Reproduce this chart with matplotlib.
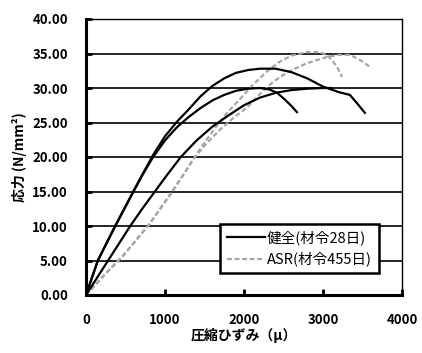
import matplotlib.pyplot as plt

plt.rcParams['font.family'] = ['Noto Sans CJK JP', 'DejaVu Sans']

# black specimens (健全, 材令28日)
a_strain = [0, 150, 370, 600, 720, 850, 1000, 1150, 1300, 1450, 1600, 1750, 1900, 2050,
            2200, 2400, 2600, 2800, 3000, 3200, 3340, 3430, 3530]
a_stress = [0, 5.0, 10.0, 15.0, 17.6, 20.3, 23.0, 25.1, 26.9, 28.8, 30.3, 31.4, 32.2, 32.6,
            32.8, 32.8, 32.3, 31.4, 30.2, 29.4, 29.0, 27.8, 26.4]
b_strain = [0, 150, 370, 600, 720, 850, 1000, 1150, 1300, 1450, 1600, 1750, 1900, 2050,
            2200, 2320, 2420, 2520, 2600, 2670]
b_stress = [0, 5.0, 10.0, 15.0, 17.5, 20.0, 22.4, 24.3, 25.8, 27.1, 28.2, 29.0, 29.6, 29.9,
            30.0, 29.8, 29.3, 28.3, 27.4, 26.5]
c_strain = [0, 280, 560, 700, 840, 1000, 1200, 1400, 1600, 1800, 2000, 2200, 2400, 2600,
            2800, 3000, 3100]
c_stress = [0, 5.0, 10.0, 12.3, 14.5, 17.0, 20.0, 22.4, 24.4, 26.0, 27.5, 28.6, 29.3, 29.7,
            29.9, 30.0, 30.0]

# gray specimens (ASR, 材令455日)
g1_strain = [0, 240, 470, 630, 790, 940, 1080, 1220, 1360, 1500, 1640, 1800, 1950, 2100,
             2290, 2450, 2600, 2800, 2950, 3050, 3130, 3190, 3240]
g1_stress = [0, 3.0, 5.7, 7.9, 10.1, 12.5, 14.8, 17.2, 19.7, 22.1, 24.3, 26.6, 28.4, 30.3,
             32.4, 33.8, 34.7, 35.2, 35.2, 34.8, 33.8, 32.8, 31.6]
g2_strain = [0, 240, 470, 630, 790, 940, 1080, 1220, 1360, 1520, 1700, 1870, 2040, 2200,
             2370, 2550, 2800, 3050, 3200, 3340, 3450, 3530, 3600]
g2_stress = [0, 3.0, 5.7, 7.9, 10.1, 12.5, 14.8, 17.2, 19.7, 21.9, 24.0, 25.7, 27.2, 29.1,
             30.9, 32.3, 33.6, 34.5, 34.8, 34.8, 34.2, 33.6, 33.0]

yticks = [0, 5, 10, 15, 20, 25, 30, 35, 40]
xticks = [0, 1000, 2000, 3000, 4000]

fig = plt.figure(figsize=(4.22, 3.53), dpi=100)
ax = fig.add_axes([86/422, 1-295/353, 316/422, 276/353])

for y in yticks[1:-1]:
    ax.axhline(y, color='black', lw=1.2, zorder=1)

gray = '#a6a6a6'
ax.plot(g1_strain, g1_stress, color=gray, lw=1.6, ls=(0, (2.2, 1.2)), zorder=2)
ax.plot(g2_strain, g2_stress, color=gray, lw=1.6, ls=(0, (2.2, 1.2)), zorder=2,
        label='ASR(材令455日)')
ax.plot(a_strain, a_stress, color='black', lw=1.6, zorder=3, label='健全(材令28日)')
ax.plot(b_strain, b_stress, color='black', lw=1.6, zorder=3)
ax.plot(c_strain, c_stress, color='black', lw=1.6, zorder=3)

ax.set_xlim(0, 4000)
ax.set_ylim(0, 40)
ax.set_xticks(xticks)
ax.set_yticks(yticks)
ax.set_yticklabels([f'{v:.2f}' for v in yticks])
ax.tick_params(direction='in', length=4, width=2, labelsize=9.5, pad=13)
for lab in ax.get_xticklabels() + ax.get_yticklabels():
    lab.set_fontweight('bold')

ax.spines['left'].set_linewidth(2.2)
ax.spines['bottom'].set_linewidth(2.2)
ax.spines['top'].set_linewidth(1.0)
ax.spines['right'].set_linewidth(1.0)

ax.set_xlabel('圧縮ひずみ（μ）', fontsize=10, fontweight='bold', labelpad=1)
ax.set_ylabel('応力 (N/mm²)', fontsize=10, fontweight='bold', labelpad=4)

handles, labels = ax.get_legend_handles_labels()
leg = ax.legend(handles[::-1], labels[::-1], loc='center',
                bbox_to_anchor=(209/422, 1-274/353, 181/422, 51/353),
                bbox_transform=fig.transFigure, fancybox=False, framealpha=1,
                edgecolor='black', fontsize=10.5, handlelength=2.6,
                handletextpad=0.15, borderpad=0.45, labelspacing=0.45,
                borderaxespad=0)
leg.get_frame().set_linewidth(1.8)

fig.savefig('out.png', dpi=100)
